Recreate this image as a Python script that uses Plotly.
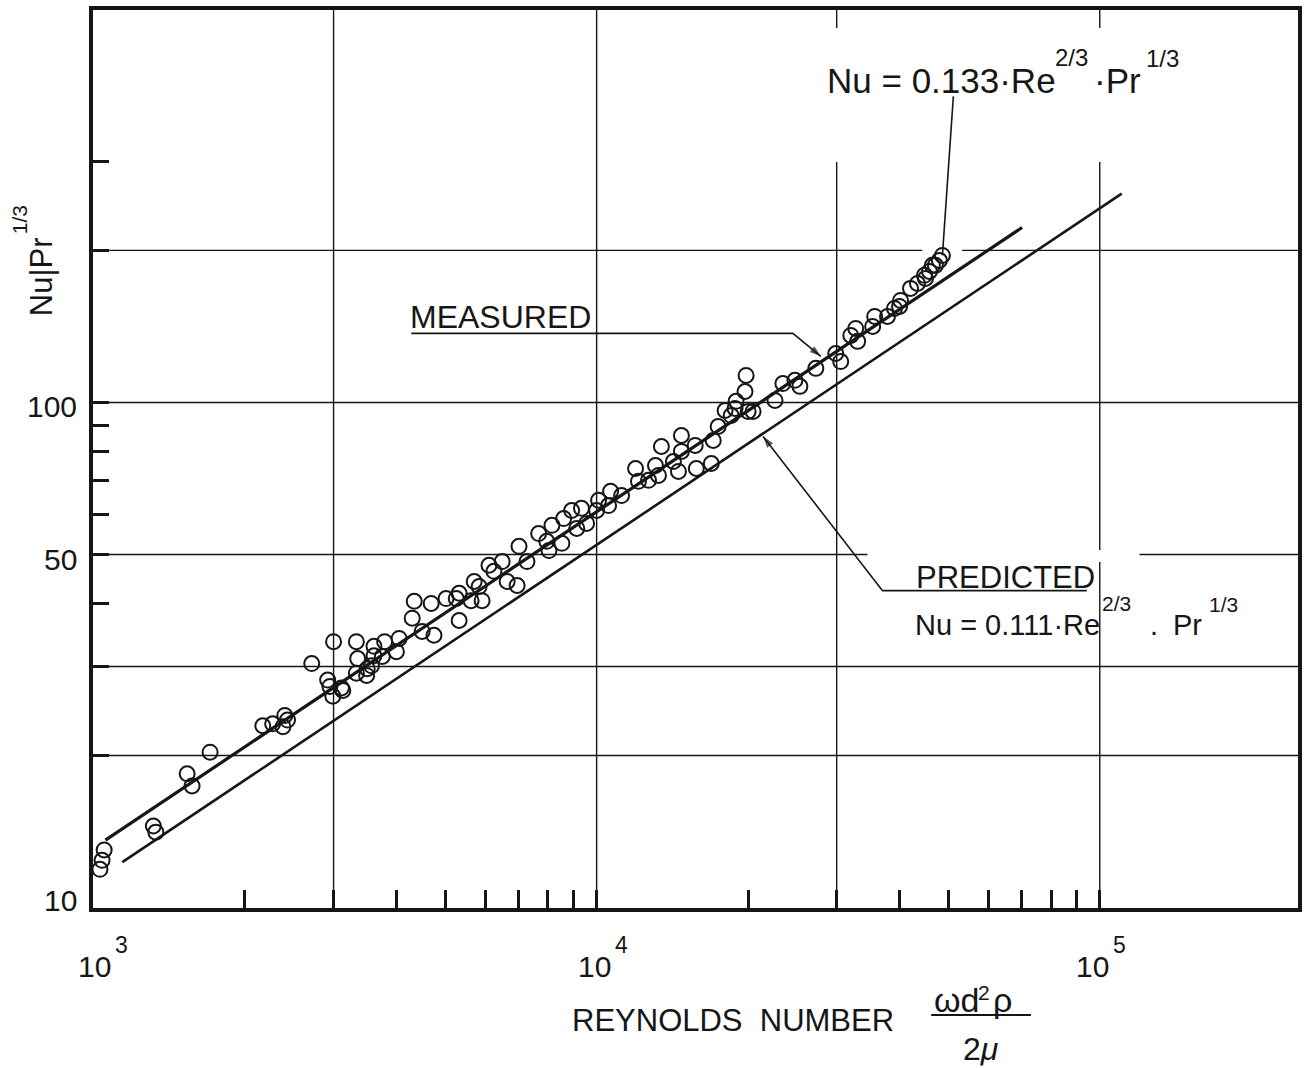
import math
import plotly.graph_objects as go

# ---------------- data ----------------
re_data = [1050, 1040, 1030, 1315, 1330, 1535, 1570, 1705, 2170, 2270,
           2400, 2380, 2430, 2715, 2920, 2950, 2990, 3130, 3000, 3330,
           3330, 3350, 3610, 3610, 3500, 3490, 3790, 3750, 4000, 4050,
           3110, 3570, 4340, 4690, 4300, 4500, 4750, 5330, 5020, 5330,
           5260, 5630, 5920, 5840, 6110, 6250, 6490, 6640, 6950, 7010,
           7270, 7670, 7960, 8150, 8040, 8600, 8530, 8920, 9130, 9330,
           9550, 10090, 10000, 10660, 10560, 11210, 11950, 12110, 12680, 13270,
           13090, 13450, 14210, 14740, 14540, 14740, 15700, 15780, 16900, 17050,
           17440, 18000, 18510, 18930, 19720, 19820, 20000, 20460, 22620, 23450,
           24780, 25350, 27270, 29870, 30560, 32000, 33020, 32730, 35370, 35700,
           37850, 39080, 40000, 40180, 42060, 43420, 45040, 45860, 47130, 48000,
           48670, 46480, 44830, 5710, 18840]
nu_data = [13.0, 12.4, 11.9, 14.5, 14.1, 18.4, 17.4, 20.3, 22.9, 23.1,
           24.0, 22.8, 23.5, 30.4, 28.2, 27.4, 26.2, 26.9, 33.6, 33.6,
           29.1, 31.1, 32.9, 31.5, 29.7, 28.8, 33.6, 31.4, 32.1, 34.1,
           27.2, 30.1, 40.4, 40.0, 37.4, 35.2, 34.6, 37.0, 40.9, 41.9,
           40.9, 40.5, 40.5, 43.2, 47.6, 46.3, 48.4, 44.2, 43.4, 51.9,
           48.4, 55.0, 53.1, 57.1, 50.9, 58.9, 52.6, 61.1, 56.3, 61.7,
           57.6, 64.0, 61.1, 66.7, 62.5, 65.4, 74.0, 69.8, 70.1, 71.7,
           75.0, 81.8, 76.4, 80.0, 73.0, 86.0, 82.2, 74.0, 75.7, 84.1,
           89.6, 96.4, 94.2, 100.5, 105.1, 113.1, 96.0, 96.0, 100.9, 109.0,
           110.6, 107.6, 116.8, 125.0, 120.5, 135.7, 132.1, 140.1, 141.4, 148.0,
           148.0, 153.5, 154.9, 159.2, 168.2, 172.0, 176.0, 181.7, 186.8, 191.1,
           195.5, 186.8, 178.5, 44.2, 97.3]

fit_measured_re = [1056, 70080]
fit_measured_nu = [13.6, 222]
fit_predicted_re = [1141, 110560]
fit_predicted_nu = [12.3, 259]

x_label_exps = [3, 4, 5]
x_minor = [2000, 3000, 4000, 5000, 6000, 7000, 8000, 9000, 10000,
           20000, 30000, 40000, 50000, 60000, 70000, 80000, 90000, 100000]
y_label_vals = [10, 50, 100]
y_minor = [20, 30, 40, 50, 60, 70, 80, 90, 100, 200, 300]
x_grid = [3000, 10000, 30000, 100000]
y_grid = [20, 30, 50, 100, 200]

# callout guide lines (last point = arrow tip)
top_leader_re = [51170, 48670]
top_leader_nu = [403.6, 195.5]
meas_callout_re = [4282, 24550, 27900]
meas_callout_nu = [137, 137, 123.4]
pred_callout_re = [94250, 37000, 21420]
pred_callout_nu = [42.4, 42.4, 85.6]

# ---------------- layout helpers ----------------
W, H = 1306, 1068
ML, MR, MT, MB = 93, 4, 10, 160
XR = [2.999, 5.394]
YR = [0.999, 2.777]
PW, PH = W - ML - MR, H - MT - MB

def ax_x(px):   # pixel column -> log10 x (annotation coords on log axis)
    return XR[0] + (px - ML) / PW * (XR[1] - XR[0])

def ax_y(py):   # pixel row -> log10 y
    return YR[0] + (H - MB - py) / PH * (YR[1] - YR[0])

def pp_x(px):
    return (px - ML) / PW

def pp_y(py):
    return (H - MB - py) / PH

ink = "#161616"
FONT = "Liberation Sans, Arial, sans-serif"

fig = go.Figure()
fig.add_trace(go.Scatter(x=fit_predicted_re, y=fit_predicted_nu, mode="lines",
                         line=dict(color=ink, width=2.6), hoverinfo="skip"))
fig.add_trace(go.Scatter(x=fit_measured_re, y=fit_measured_nu, mode="lines",
                         line=dict(color=ink, width=3.2), hoverinfo="skip"))
fig.add_trace(go.Scatter(x=top_leader_re, y=top_leader_nu, mode="lines",
                         line=dict(color=ink, width=1.6), hoverinfo="skip"))
for gx, gy in [(meas_callout_re, meas_callout_nu), (pred_callout_re, pred_callout_nu)]:
    fig.add_trace(go.Scatter(x=gx, y=gy, mode="lines+markers", hoverinfo="skip",
                             line=dict(color=ink, width=1.6),
                             marker=dict(symbol="arrow", angleref="previous",
                                         size=[0, 0, 12], color=ink,
                                         line=dict(width=0))))
fig.add_trace(go.Scatter(x=re_data, y=nu_data, mode="markers", cliponaxis=False,
                         marker=dict(symbol="circle-open", size=15, color=ink,
                                     line=dict(width=2))))

shapes = []
for v in x_grid:
    shapes.append(dict(type="line", xref="x", yref="paper", x0=v, x1=v, y0=0, y1=1,
                       line=dict(color=ink, width=1.4), layer="below"))
for v in y_grid:
    shapes.append(dict(type="line", xref="paper", yref="y", x0=0, x1=1, y0=v, y1=v,
                       line=dict(color=ink, width=1.4), layer="below"))
# gaps in the grid around the lettering (pixel boxes)
for (x0, x1, y0, y1) in [(815, 1200, 28, 162), (925, 965, 246, 258), (870, 1143, 550, 562)]:
    shapes.append(dict(type="rect", xref="paper", yref="paper",
                       x0=pp_x(x0), x1=pp_x(x1), y0=pp_y(y1), y1=pp_y(y0),
                       fillcolor="white", line=dict(width=0), layer="below"))
# fraction bar in x-axis title
shapes.append(dict(type="line", xref="paper", yref="paper", x0=pp_x(934), x1=pp_x(1034),
                   y0=pp_y(1015), y1=pp_y(1015), line=dict(color=ink, width=2)))

ann = []
def A(text, x, y, size, xref="x", yref="y", xanchor="left", yanchor="middle", **kw):
    d = dict(text=text, x=x, y=y, xref=xref, yref=yref, showarrow=False,
             xanchor=xanchor, yanchor=yanchor, borderpad=0,
             font=dict(family=FONT, size=size, color=ink))
    d.update(kw)
    ann.append(d)

# y tick labels
for v, py in zip(y_label_vals, [900, 559, 406]):
    A(str(v), pp_x(78), ax_y(py), 30, xref="paper", xanchor="right")
# x tick labels 10^n (base and exponent as separate texts)
for e, bx in zip(x_label_exps, [95, 597, 1096]):
    A("10", ax_x(bx), pp_y(966), 30, yref="paper", xanchor="right", xshift=17)
    A(str(e), ax_x(bx), pp_y(945), 23, yref="paper", xanchor="left", xshift=19)

# x-axis title with fraction
A("REYNOLDS  NUMBER", ax_x(573), pp_y(1020), 31, yref="paper")
A("ωd", ax_x(936), pp_y(1000), 34, yref="paper")
A("2", ax_x(980), pp_y(992), 21, yref="paper")
A("ρ", ax_x(995), pp_y(1000), 34, yref="paper")
A("2<i>μ</i>", ax_x(984), pp_y(1049), 32, yref="paper", xanchor="center")

# y-axis title (rotated)
A("Nu|Pr", pp_x(41), ax_y(277), 31, xref="paper", xanchor="center", textangle=-90)
A("1/3", pp_x(19), ax_y(220), 21, xref="paper", xanchor="center", textangle=-90)

# callout texts
A("MEASURED", ax_x(410), ax_y(317), 32)
A("PREDICTED", ax_x(918), ax_y(577), 31)

A("Nu = 0.111·Re", ax_x(917), ax_y(625), 29)
A("2/3", ax_x(1104), ax_y(603), 21)
A(".", ax_x(1152), ax_y(625), 29)
A("Pr", ax_x(1176), ax_y(625), 29)
A("1/3", ax_x(1212), ax_y(604), 21)

A("Nu = 0.133·Re", ax_x(828), ax_y(80), 35)
A("2/3", ax_x(1057), ax_y(57), 24)
A("·Pr", ax_x(1096), ax_y(80), 35)
A("1/3", ax_x(1148), ax_y(58), 24)

fig.update_layout(
    width=W, height=H,
    margin=dict(l=ML, r=MR, t=MT, b=MB),
    paper_bgcolor="white", plot_bgcolor="white",
    showlegend=False,
    shapes=shapes, annotations=ann,
    xaxis=dict(type="log", range=XR, showgrid=False, zeroline=False,
               showline=True, linecolor=ink, linewidth=4, mirror=True,
               ticks="inside", tickvals=x_minor, ticklen=18, tickwidth=3,
               tickcolor=ink, showticklabels=False),
    yaxis=dict(type="log", range=YR, showgrid=False, zeroline=False,
               showline=True, linecolor=ink, linewidth=4, mirror=True,
               ticks="inside", tickvals=y_minor, ticklen=16, tickwidth=3,
               tickcolor=ink, showticklabels=False),
)

fig.write_html("out.html", config={"displayModeBar": False},
               post_script="document.body.style.margin='0';document.body.style.overflow='hidden';")
